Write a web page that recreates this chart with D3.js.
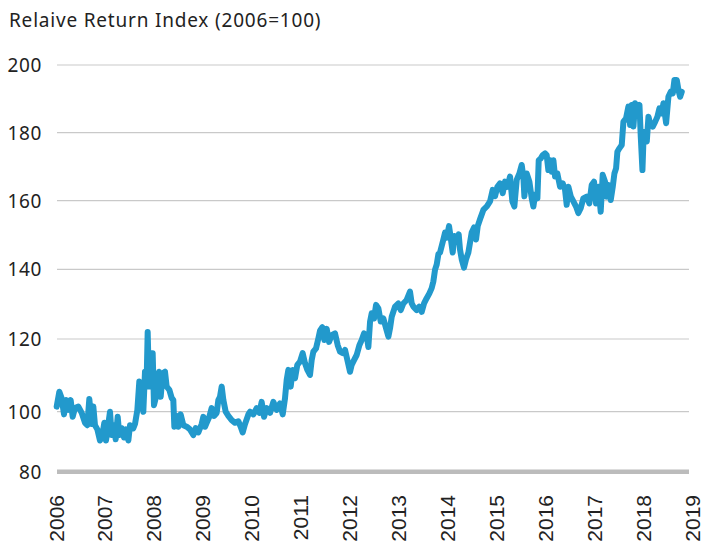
<!DOCTYPE html>
<html>
<head>
<meta charset="utf-8">
<script src="https://cdn.jsdelivr.net/npm/d3@7"></script>
<style>
  html, body { margin: 0; padding: 0; background: #fff; }
  svg { display: block; }
</style>
</head>
<body>
<svg id="chart" width="702" height="542"></svg>
<script>
const title = "Relaive Return Index (2006=100)";
const yearTicks = [2006,2007,2008,2009,2010,2011,2012,2013,2014,2015,2016,2017,2018,2019];
const yTicks = [80,100,120,140,160,180,200];

const dates = [
  2006.014,2006.068,2006.116,2006.164,2006.204,2006.252,2006.300,2006.341,2006.388,2006.457,2006.525,2006.593,2006.640,2006.681,2006.729,2006.763,2006.797,2006.845,2006.899,2006.947,2006.988,
  2007.022,2007.070,2007.104,2007.138,2007.186,2007.220,2007.261,2007.295,2007.342,2007.390,2007.431,2007.479,2007.513,2007.581,2007.615,2007.663,2007.703,2007.751,2007.785,2007.819,2007.853,2007.874,2007.901,2007.935,2007.976,
  2008.003,2008.044,2008.071,2008.106,2008.140,2008.181,2008.228,2008.262,2008.317,2008.364,2008.398,2008.419,2008.467,2008.501,2008.548,2008.603,2008.671,2008.739,2008.807,2008.855,2008.910,2008.978,
  2009.012,2009.046,2009.080,2009.134,2009.182,2009.230,2009.284,2009.318,2009.352,2009.387,2009.421,2009.468,2009.523,2009.591,2009.659,2009.727,2009.775,2009.816,2009.864,2009.932,2009.966,
  2010.034,2010.102,2010.157,2010.204,2010.252,2010.307,2010.375,2010.443,2010.511,2010.579,2010.634,2010.681,2010.715,2010.749,2010.797,2010.838,2010.886,2010.933,2010.988,
  2011.042,2011.090,2011.138,2011.192,2011.226,2011.260,2011.315,2011.363,2011.397,2011.444,2011.485,2011.533,2011.581,2011.635,2011.703,2011.758,2011.806,2011.860,2011.908,2011.956,
  2012.010,2012.044,2012.092,2012.146,2012.201,2012.249,2012.296,2012.351,2012.385,2012.419,2012.453,2012.501,2012.542,2012.589,2012.637,2012.692,2012.746,2012.794,2012.828,2012.862,2012.930,2012.998,
  2013.046,2013.100,2013.168,2013.236,2013.271,2013.305,2013.373,2013.427,2013.475,2013.523,2013.577,2013.632,2013.679,2013.713,2013.748,2013.782,2013.816,2013.850,2013.884,2013.918,2013.952,2013.986,
  2014.034,2014.068,2014.109,2014.143,2014.190,2014.231,2014.258,2014.293,2014.340,2014.381,2014.429,2014.463,2014.497,2014.545,2014.586,2014.620,2014.667,2014.735,2014.803,2014.872,2014.926,2014.974,
  2015.022,2015.076,2015.131,2015.178,2015.226,2015.281,2015.328,2015.369,2015.417,2015.472,2015.519,2015.553,2015.574,2015.621,2015.676,2015.724,2015.758,2015.792,2015.840,2015.867,2015.908,2015.949,2015.996,
  2016.030,2016.064,2016.098,2016.133,2016.167,2016.201,2016.248,2016.303,2016.357,2016.405,2016.439,2016.473,2016.521,2016.575,2016.630,2016.677,2016.725,2016.779,2016.847,2016.902,2016.950,2016.998,
  2017.039,2017.087,2017.134,2017.175,2017.223,2017.257,2017.291,2017.339,2017.380,2017.414,2017.448,2017.475,2017.516,2017.564,2017.598,2017.653,2017.700,2017.735,2017.769,2017.803,2017.837,2017.885,2017.926,2017.953,2017.987,
  2018.008,2018.042,2018.076,2018.110,2018.143,2018.198,2018.246,2018.293,2018.334,2018.382,2018.416,2018.471,2018.518,2018.566,2018.607,2018.641,2018.689,2018.723,2018.757,2018.791
];

const indexValues = [
  101.4,105.5,103.7,99.1,103.2,100.5,103.2,98.3,101,101.4,99.6,96.3,95.5,103.5,95.9,101.4,95.5,94.1,90.4,92.2,96.3,
  90.4,95.9,100,92.2,95.5,90.8,98.3,92.2,94.5,91.4,94.1,90.4,95.5,94.5,95.9,100.5,108.3,107.3,100,111,108.7,122,106.9,116.1,116.1,
  101.8,104.1,108.3,111,104.1,110.6,111,106.9,106,103.8,103.2,95,98.6,95,99.1,95.5,95,94.1,92.2,94.5,93.1,95.9,
  98.3,95,96.3,98.3,101,98.6,99.6,103.2,104.1,106.9,103.2,100,98.6,97.2,96.3,96.8,95,93.1,95.9,99.1,100,
  99.1,101,99.6,102.7,98.3,101,99.6,102.7,100.5,102.3,99.1,103.7,108.7,111.5,106.9,111.5,109.2,112.9,113.8,
  116.1,113.3,111.5,110.1,114.2,116.5,117.4,120.2,122.4,123.4,119.7,122.9,119.2,121.1,121.6,118.3,116.5,116.1,117,114.2,
  111,112.9,114.2,115.6,118.3,119.7,121.6,121.1,117.8,124.9,127.4,125.9,129.8,128.8,125,125.9,123.1,120.7,123.1,126.4,129.3,130.2,
  128.3,130.2,131.2,133.6,130.2,129.3,128.3,129.3,127.8,130.2,131.7,133.1,134.6,136.5,139.9,141.4,144.4,144.9,146.8,148.7,150.7,149.2,
  152.6,149.2,144.9,149.7,148.3,150.2,145.8,142.9,140.5,142.9,144.9,147.8,150.7,152.2,148.7,152.6,154.6,157.3,158.3,159.8,163.2,161.3,
  164.1,165.1,162.2,165.6,164.1,167.1,159.8,158.3,166.1,168,170.5,167.1,161.3,168,165.6,160.7,158.3,161.8,160.7,171.9,172.4,173.4,173.9,
  173.4,169,171.9,168.5,171.9,167.1,168,164.1,165.1,163.2,158.8,164.1,161.3,159.8,158.3,156.4,157.8,160.7,161.2,159.2,164.6,165.6,
  159.2,164.1,156.8,167.6,165.6,161.2,164.6,160.2,164.1,168,169.5,174.4,175.4,176.4,183.2,184.3,187.7,182.3,188.2,181.8,188.7,186.7,188.2,178.8,169,
  177.9,180.3,177.4,184.7,182.8,181.8,183.2,184.7,187.2,185.7,188.7,182.8,190.6,192.1,191.6,195.6,195.6,192.6,190.6,192.1
];

const data = dates.map((d, i) => ({ t: d, v: indexValues[i] }));

const svg = d3.select("#chart");
const font = "'Noto Sans', 'Open Sans', sans-serif";

const x = d3.scaleLinear().domain([2006, 2019]).range([56, 692]);
const y = d3.scaleLinear()
  .domain([80, 100, 120, 140, 160, 180, 200])
  .range([471.7, 411.7, 339, 269.3, 200.7, 132.7, 65]);

const gridX0 = 57, gridX1 = 689;

// title
svg.append("text")
  .attr("x", 9).attr("y", 27)
  .attr("font-family", font).attr("font-size", 19)
  .attr("letter-spacing", 0.8)
  .attr("fill", "#222")
  .text(title);

// gridlines
svg.append("g").selectAll("line")
  .data(yTicks.filter(d => d > 80))
  .join("line")
  .attr("x1", gridX0).attr("x2", gridX1)
  .attr("y1", d => y(d)).attr("y2", d => y(d))
  .attr("stroke", "#c9c9c9").attr("stroke-width", 1.2);

// y labels
svg.append("g").selectAll("text")
  .data(yTicks)
  .join("text")
  .attr("x", 42).attr("y", d => y(d))
  .attr("dy", "0.36em")
  .attr("text-anchor", "end")
  .attr("font-family", font).attr("font-size", 19)
  .attr("letter-spacing", 0.6)
  .attr("fill", "#222")
  .text(d => d);

// line
const line = d3.line().x(d => x(d.t)).y(d => y(d.v));
svg.append("path")
  .datum(data)
  .attr("d", line)
  .attr("fill", "none")
  .attr("stroke", "#2299cc")
  .attr("stroke-width", 6)
  .attr("stroke-linejoin", "round")
  .attr("stroke-linecap", "round");

// bottom axis line
svg.append("line")
  .attr("x1", gridX0).attr("x2", gridX1)
  .attr("y1", y(80)).attr("y2", y(80))
  .attr("stroke", "#bcbcbc").attr("stroke-width", 4.5);

// x labels
svg.append("g").selectAll("text")
  .data(yearTicks)
  .join("text")
  .attr("transform", d => `translate(${x(d) + 7.5},495) rotate(-90)`)
  .attr("text-anchor", "end")
  .attr("font-family", "'Liberation Sans', Arial, sans-serif")
  .attr("font-size", 21)
  .attr("fill", "#222")
  .text(d => d);
</script>
</body>
</html>
